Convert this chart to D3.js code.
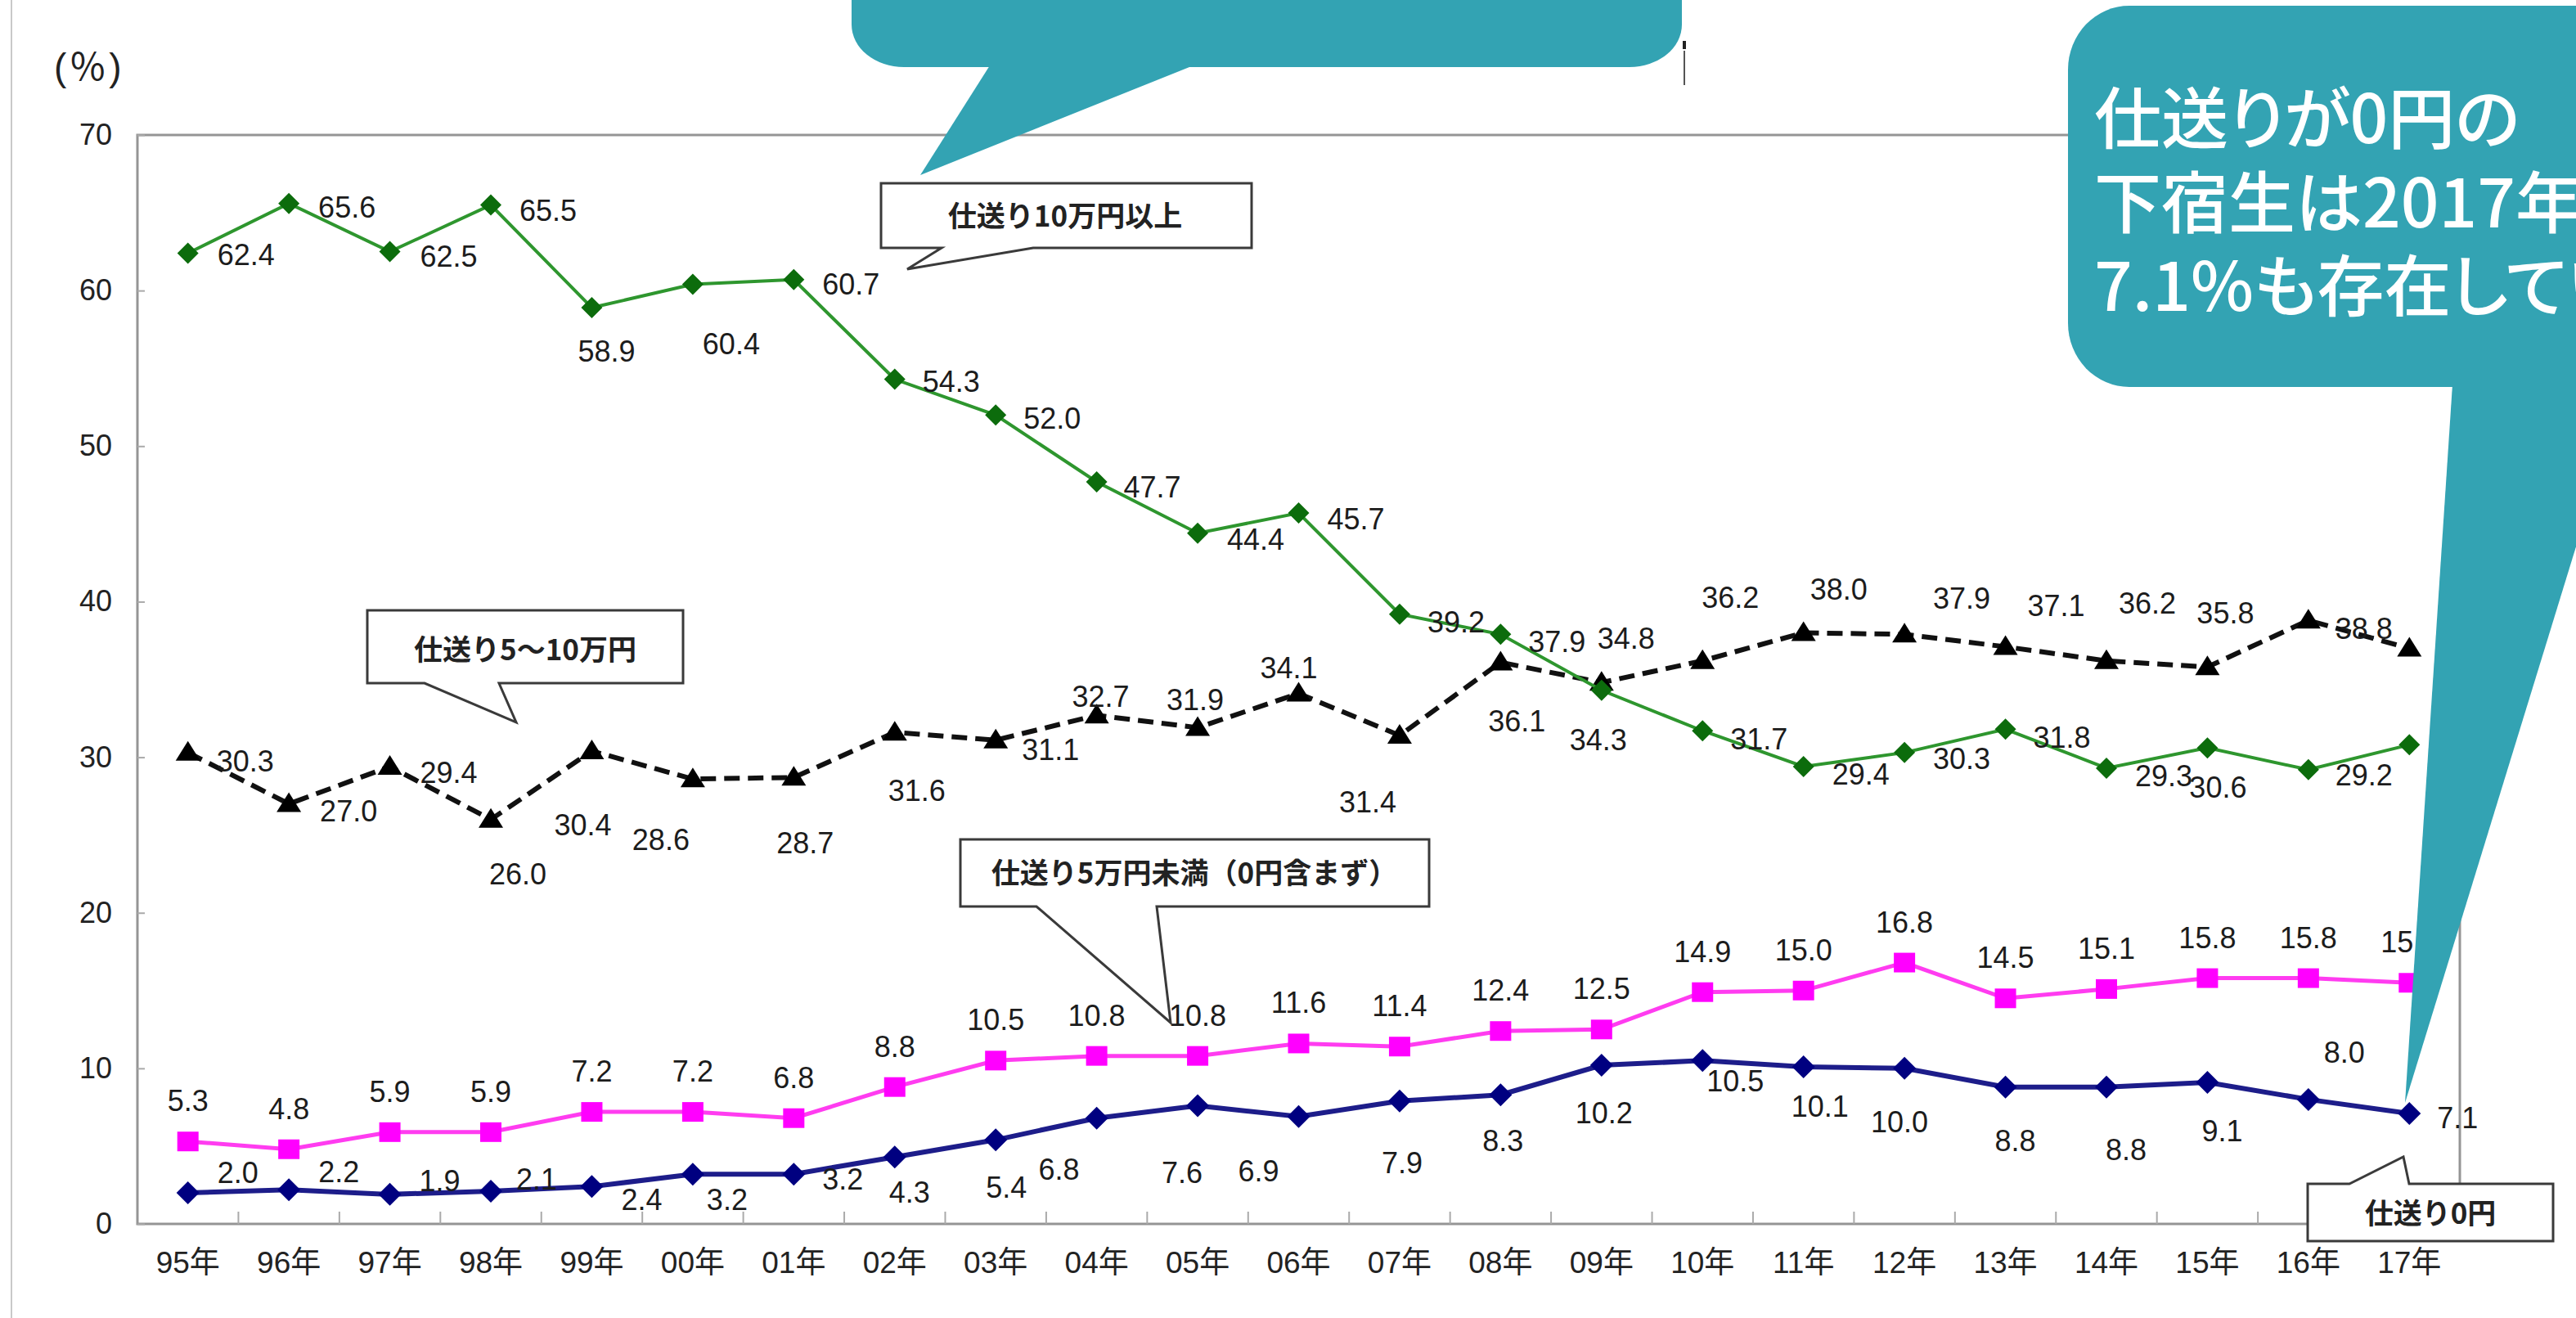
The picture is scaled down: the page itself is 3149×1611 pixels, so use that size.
<!DOCTYPE html>
<html>
<head>
<meta charset="utf-8">
<script src="https://cdn.jsdelivr.net/npm/d3@7"></script>
<style>
  body { margin: 0; background: #fff; overflow: hidden; }
  svg { display: block; }
</style>
</head>
<body>
<div id="chart"></div>
<script>
// ---- data ----
var years = ["95年","96年","97年","98年","99年","00年","01年","02年","03年","04年","05年","06年",
             "07年","08年","09年","10年","11年","12年","13年","14年","15年","16年","17年"];
var over10   = [62.4,65.6,62.5,65.5,58.9,60.4,60.7,54.3,52.0,47.7,44.4,45.7,39.2,37.9,34.3,31.7,29.4,30.3,31.8,29.3,30.6,29.2,30.8];
var from5to10 = [30.3,27.0,29.4,26.0,30.4,28.6,28.7,31.6,31.1,32.7,31.9,34.1,31.4,36.1,34.8,36.2,38.0,37.9,37.1,36.2,35.8,38.8,37.0];
var under5   = [5.3,4.8,5.9,5.9,7.2,7.2,6.8,8.8,10.5,10.8,10.8,11.6,11.4,12.4,12.5,14.9,15.0,16.8,14.5,15.1,15.8,15.8,15.5];
var zeroYen  = [2.0,2.2,1.9,2.1,2.4,3.2,3.2,4.3,5.4,6.8,7.6,6.9,7.9,8.3,10.2,10.5,10.1,10.0,8.8,8.8,9.1,8.0,7.1];
var yTicks = [0,10,20,30,40,50,60,70];

// label placement (offset from the marker, px)
var over10Offsets = [[71,2],[71,4],[72,5],[70,6],[18,53],[47,73],[70,5],[69,3],[69,4],[68,6],[71,7],[70,7],
                     [69,9],[69,9],[-4,60],[69,10],[70,9],[70,7],[69,10],[70,9],[13,48],[68,6],[70,6]];
var from5to10Offsets = [[70,10],[73,8],[72,7],[33,66],[-11,90],[-39,74],[14,80],[27,71],[67,11],[5,-23],[-3,-34],[-12,-32],
                        [-39,81],[20,71],[30,-54],[34,-78],[43,-53],[70,-44],[62,-51],[50,-71],[22,-66],[68,10],[68,10]];
var zeroOffsets = [[61,-25],[61,-22],[61,-17],[56,-15],[61,16],[42,31],[60,6],[18,43],[13,58],[-46,62],[-19,82],[-49,66],
                   [3,75],[3,56],[3,58],[40,25],[20,48],[-6,65],[12,65],[24,76],[18,59],[44,-58],[59,5]];

var numFont = "'Liberation Sans', 'Noto Sans CJK JP', sans-serif";
var jpFont = "'Noto Sans CJK JP', sans-serif";

var margin = {top: 165, right: 142, bottom: 115, left: 168},
    width = 3149 - margin.left - margin.right,
    height = 1611 - margin.top - margin.bottom;

var svg = d3.select("#chart")
  .append("svg")
    .attr("width", 3149)
    .attr("height", 1611);

// thin outer border on the left
svg.append("line")
  .attr("x1", 14).attr("x2", 14).attr("y1", 0).attr("y2", 1611)
  .attr("stroke", "#c9c9c9").attr("stroke-width", 2);

var g = svg.append("g")
  .attr("transform", "translate(" + margin.left + "," + margin.top + ")");

var x = d3.scaleBand().domain(years).range([0, width]);
var y = d3.scaleLinear().domain([0, 70]).range([height, 0]);
function cx(i) { return x(years[i]) + x.bandwidth() / 2; }

// plot frame
g.append("rect")
  .attr("width", width).attr("height", height)
  .attr("fill", "none").attr("stroke", "#959595").attr("stroke-width", 3);

// Y axis
g.append("g")
  .call(d3.axisLeft(y).tickValues(yTicks).tickSize(-9).tickSizeOuter(0).tickPadding(31))
  .call(function(a) {
    a.select(".domain").remove();
    a.selectAll("line").attr("stroke", "#aaa").attr("stroke-width", 2);
    a.selectAll("text").style("font-size", "36px").style("font-family", numFont).attr("fill", "#222");
  });

// X axis labels
g.append("g")
  .attr("transform", "translate(0," + height + ")")
  .call(d3.axisBottom(x).tickSize(0).tickPadding(34))
  .call(function(a) {
    a.select(".domain").remove();
    a.selectAll("text").style("font-size", "37px").style("font-family", numFont).attr("fill", "#222");
  });

// category boundary ticks
g.selectAll(".xtick")
  .data(years.slice(1))
  .enter()
  .append("line")
    .attr("x1", function(d) { return x(d); })
    .attr("x2", function(d) { return x(d); })
    .attr("y1", height).attr("y2", height - 15)
    .attr("stroke", "#aaa").attr("stroke-width", 2);

// marker shapes
function markerPath(type, px, py) {
  if (type === "diamond") {
    return "M" + px + "," + (py - 13) + "L" + (px + 13) + "," + py + "L" + px + "," + (py + 13) + "L" + (px - 13) + "," + py + "Z";
  }
  if (type === "diamond2") {
    return "M" + px + "," + (py - 14) + "L" + (px + 14) + "," + py + "L" + px + "," + (py + 14) + "L" + (px - 14) + "," + py + "Z";
  }
  if (type === "triangle") {
    return "M" + px + "," + (py - 14) + "L" + (px + 15) + "," + (py + 10) + "L" + (px - 15) + "," + (py + 10) + "Z";
  }
  return "M" + (px - 13) + "," + (py - 12) + "h26v24h-26Z";
}

var series = [
  {name: "from5to10", values: from5to10, line: "#111", lw: 6, dash: "19,10", marker: "triangle", fill: "#000", offsets: from5to10Offsets},
  {name: "over10", values: over10, line: "#2e962e", lw: 4, dash: null, marker: "diamond", fill: "#0c6c0c", offsets: over10Offsets},
  {name: "under5", values: under5, line: "#ff3cf0", lw: 5, dash: null, marker: "square", fill: "#ff00ff", offsets: null},
  {name: "zeroYen", values: zeroYen, line: "#1d1d8a", lw: 6, dash: null, marker: "diamond2", fill: "#000080", offsets: zeroOffsets}
];

var line = d3.line()
  .x(function(d, i) { return cx(i); })
  .y(function(d) { return y(d); });

series.forEach(function(s) {
  g.append("path")
    .attr("d", line(s.values))
    .attr("fill", "none")
    .attr("stroke", s.line)
    .attr("stroke-width", s.lw)
    .attr("stroke-dasharray", s.dash);

  g.selectAll(".m-" + s.name)
    .data(s.values)
    .enter()
    .append("path")
      .attr("d", function(d, i) { return markerPath(s.marker, cx(i), y(d)); })
      .attr("fill", s.fill);
});

// value labels
series.forEach(function(s) {
  g.selectAll(".t-" + s.name)
    .data(s.values)
    .enter()
    .append("text")
      .attr("x", function(d, i) { return cx(i) + (s.offsets ? s.offsets[i][0] : 0); })
      .attr("y", function(d, i) { return y(d) + (s.offsets ? s.offsets[i][1] : -50); })
      .attr("dy", "0.36em")
      .attr("text-anchor", "middle")
      .style("font-family", numFont)
      .style("font-size", "36px")
      .attr("fill", "#1c1c1c")
      .text(function(d) { return d3.format(".1f")(d); });
});

// legend callout boxes
function boxDown(b) {
  return "M" + b.l + "," + b.t + "H" + b.r + "V" + b.b + "H" + b.b2 +
         "L" + b.tx + "," + b.ty + "L" + b.b1 + "," + b.b + "H" + b.l + "Z";
}
function boxUp(b) {
  return "M" + b.l + "," + b.t + "H" + b.b1 + "L" + b.tx + "," + b.ty + "L" + b.b2 + "," + b.t +
         "H" + b.r + "V" + b.b + "H" + b.l + "Z";
}
var boxes = [
  {text: "仕送り10万円以上", l: 1077, r: 1530, t: 224, b: 303, b1: 1151, b2: 1263, tx: 1109, ty: 329, cxT: 1302, cyT: 264, up: false},
  {text: "仕送り5～10万円", l: 449, r: 835, t: 746, b: 835, b1: 519, b2: 610, tx: 631, ty: 883, cxT: 642, cyT: 794, up: false},
  {text: "仕送り5万円未満（0円含まず）", l: 1174, r: 1747, t: 1026, b: 1108, b1: 1267, b2: 1414, tx: 1431, ty: 1250, cxT: 1460, cyT: 1067, up: false},
  {text: "仕送り0円", l: 2821, r: 3121, t: 1447, b: 1517, b1: 2872, b2: 2945, tx: 2938, ty: 1414, cxT: 2971, cyT: 1483, up: true}
];
boxes.forEach(function(b) {
  svg.append("path")
    .attr("d", b.up ? boxUp(b) : boxDown(b))
    .attr("fill", "#fff")
    .attr("stroke", "#3a3a3a")
    .attr("stroke-width", 3);
  svg.append("text")
    .attr("x", b.cxT).attr("y", b.cyT)
    .attr("dy", "0.36em")
    .attr("text-anchor", "middle")
    .style("font-family", jpFont)
    .style("font-size", "35px")
    .style("font-weight", "bold")
    .attr("fill", "#222")
    .text(b.text);
});

// unit label
svg.append("text")
  .attr("x", 66).attr("y", 98)
  .style("font-family", numFont)
  .style("font-size", "46px")
  .style("letter-spacing", "3px")
  .attr("fill", "#222")
  .text("(％)");

// stray mark near the top
svg.append("rect").attr("x", 2057).attr("y", 50).attr("width", 4).attr("height", 10).attr("fill", "#222");
svg.append("line").attr("x1", 2059).attr("x2", 2059).attr("y1", 62).attr("y2", 104).attr("stroke", "#555").attr("stroke-width", 2);

// teal speech bubbles drawn over the chart
var teal = "#33a3b3";
svg.append("rect")
  .attr("x", 1041).attr("y", -200).attr("width", 1015).attr("height", 282)
  .attr("rx", 64).attr("ry", 52).attr("fill", teal);
svg.append("polygon")
  .attr("points", "1210,80 1125,214 1459,80").attr("fill", teal);

svg.append("rect")
  .attr("x", 2528).attr("y", 7).attr("width", 800).attr("height", 466)
  .attr("rx", 75).attr("ry", 78).attr("fill", teal);
svg.append("polygon")
  .attr("points", "2998,470 2940,1348 3210,470").attr("fill", teal);

var noteLines = ["仕送りが0円の", "下宿生は2017年で", "7.1%も存在しています"];
svg.selectAll(".note")
  .data(noteLines)
  .enter()
  .append("text")
    .attr("x", 2560)
    .attr("y", function(d, i) { return 175 + i * 102.5; })
    .style("font-family", jpFont)
    .style("font-size", "82px")
    .style("font-weight", "500")
    .style("font-feature-settings", "'palt'")
    .attr("fill", "#fff")
    .text(function(d) { return d; });
</script>
</body>
</html>
